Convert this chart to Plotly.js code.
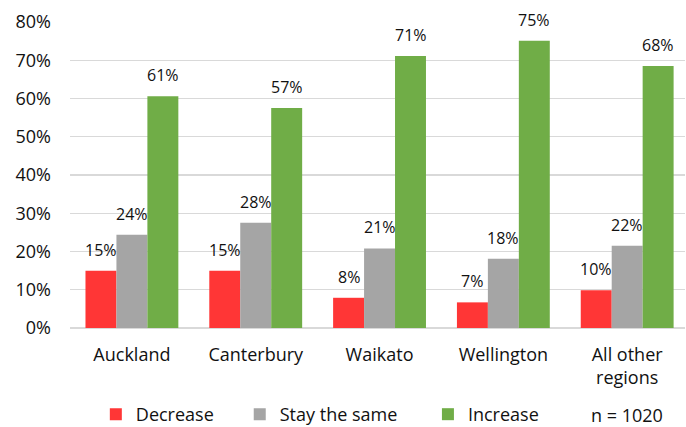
<!DOCTYPE html>
<html>
<head>
<meta charset="utf-8">
<script src="https://cdn.plot.ly/plotly-3.0.1.min.js"></script>
<style>html,body{margin:0;padding:0;background:#fff;}#chart{width:686px;height:427px;}</style>
</head>
<body>
<div id="chart"></div>
<script>
// Data
var categories = ['Auckland', 'Canterbury', 'Waikato', 'Wellington', 'All other<br>regions'];
var seriesNames = ['Decrease', 'Stay the same', 'Increase'];
var decrease = [15.0, 15.0, 7.9, 6.7, 9.9];
var stayTheSame = [24.4, 27.5, 20.8, 18.1, 21.5];
var increase = [60.6, 57.5, 71.1, 75.1, 68.5];
var decreaseLabels = ['15%', '15%', '8%', '7%', '10%'];
var stayLabels = ['24%', '28%', '21%', '18%', '22%'];
var increaseLabels = ['61%', '57%', '71%', '75%', '68%'];
var yTickVals = [0, 10, 20, 30, 40, 50, 60, 70, 80];
var yTickText = ['0%', '10%', '20%', '30%', '40%', '50%', '60%', '70%', '80%'];
var sampleNote = 'n = 1020';

var colors = ['#FF3636', '#A5A5A5', '#70AD47'];
var font = "'Open Sans', 'Noto Sans', sans-serif";
var allValues = [decrease, stayTheSame, increase];
var allLabels = [decreaseLabels, stayLabels, increaseLabels];
var legendIds = ['legend', 'legend2', 'legend3'];

var traces = allValues.map(function (vals, i) {
  return {
    type: 'bar',
    name: seriesNames[i],
    x: categories,
    y: vals,
    marker: {color: colors[i], line: {width: 0}},
    legend: legendIds[i],
    hoverinfo: 'skip'
  };
});

var barPx = 31;
var annotations = [];
allValues.forEach(function (vals, i) {
  vals.forEach(function (v, j) {
    annotations.push({
      x: categories[j], y: v, xref: 'x', yref: 'y',
      text: allLabels[i][j], showarrow: false,
      xanchor: 'center', yanchor: 'middle',
      xshift: (i - 1) * barPx, yshift: 21,
      font: {family: font, size: 16, color: '#111'}
    });
  });
});
annotations.push({
  x: 0.905, y: -0.2843, xref: 'paper', yref: 'paper',
  text: sampleNote, showarrow: false, xanchor: 'center', yanchor: 'middle',
  font: {family: font, size: 18, color: '#111'}
});

function legendAt(x) {
  return {
    x: x, y: -0.3431, xref: 'paper', yref: 'paper',
    xanchor: 'left', yanchor: 'bottom', orientation: 'h',
    bgcolor: 'rgba(0,0,0,0)', borderwidth: 0,
    font: {family: font, size: 18, color: '#111'}
  };
}

var layout = {
  width: 686, height: 427,
  margin: {l: 70, r: 1, t: 22, b: 99, autoexpand: false},
  paper_bgcolor: '#fff', plot_bgcolor: '#fff',
  barmode: 'group', bargap: 0.25, bargroupgap: 0,
  showlegend: true,
  legend: legendAt(0.042),
  legend2: legendAt(0.276),
  legend3: legendAt(0.582),
  font: {family: font, size: 18, color: '#111'},
  xaxis: {
    type: 'category', range: [-0.5, 4.467], automargin: false,
    showgrid: false, showline: false, zeroline: false,
    ticks: '', ticklabelstandoff: 14,
    tickfont: {family: font, size: 18, color: '#111'}
  },
  yaxis: {
    range: [0, 80], tickmode: 'array', tickvals: yTickVals, ticktext: yTickText,
    automargin: false,
    showgrid: true, gridcolor: '#D9D9D9', gridwidth: 1.4,
    zeroline: true, zerolinecolor: '#D9D9D9', zerolinewidth: 1.4,
    showline: false, ticks: '', ticklabelstandoff: 18,
    tickfont: {family: font, size: 18, color: '#111'}
  },
  annotations: annotations
};

Plotly.newPlot('chart', traces, layout, {displayModeBar: false, staticPlot: true});
</script>
</body>
</html>
